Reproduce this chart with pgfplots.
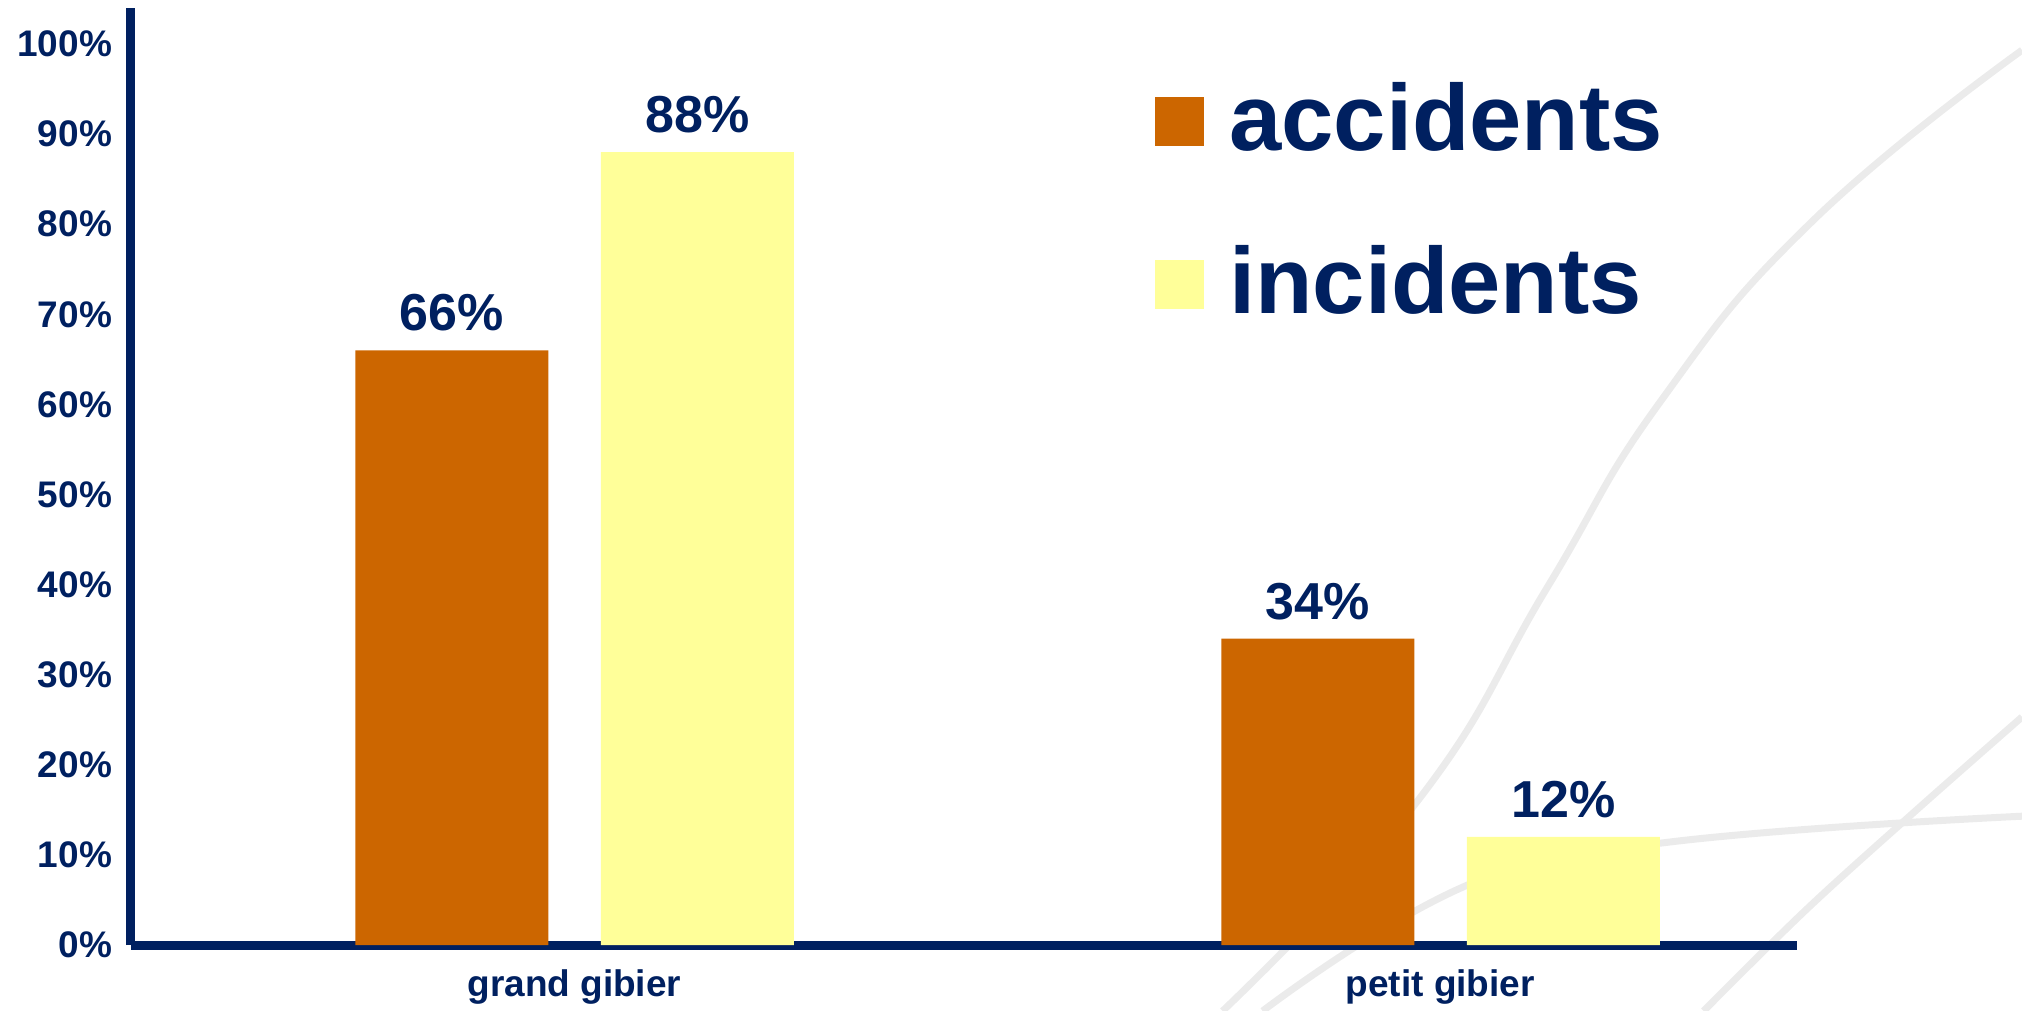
\documentclass[border=0pt]{standalone}
\usepackage{pgfplots}
\pgfplotsset{compat=1.18}
\usepackage{fontspec}
\setmainfont{Liberation Sans}
\definecolor{navy}{HTML}{002060}
\definecolor{accOrange}{HTML}{CC6600}
\definecolor{incYellow}{HTML}{FFFF99}
\definecolor{decoGray}{HTML}{EBEBEB}
\begin{document}
\begin{tikzpicture}
\path[use as bounding box] (0,0) rectangle (1011pt,505.5pt);
% decorative background curves of the slide
\begin{scope}[decoGray, line width=3.5pt]
\draw plot[smooth, tension=0.8] coordinates {(1011pt,480.4pt) (906.6pt,395.3pt) (829.9pt,304.3pt) (773.8pt,212.1pt) (709.3pt,105.7pt) (611.3pt,0pt)};
\draw plot[smooth, tension=0.8] coordinates {(631.3pt,0pt) (735.7pt,63.8pt) (835pt,84.5pt) (1011pt,97.4pt)};
\draw plot[smooth, tension=0.6] coordinates {(1011pt,147pt) (956.2pt,98.7pt) (902.7pt,50.3pt) (851.8pt,0pt)};
\end{scope}
\begin{axis}[
  at={(65.5pt,33pt)}, anchor=south west,
  scale only axis, width=833pt, height=468.5pt,
  xmin=-0.512, xmax=1.412, ymin=0, ymax=104,
  axis x line=bottom, axis y line=left,
  axis line style={-, line width=4.5pt, draw=navy},
  xtick={0,1}, xticklabels={grand gibier, petit gibier},
  ytick={0,10,...,100},
  yticklabel={\pgfmathprintnumber{\tick}\%},
  major tick length=0pt,
  tick style={draw=none},
  /pgf/number format/assume math mode=true,
  ticklabel style={font=\fontsize{18.5}{18.5}\selectfont\bfseries, text=navy},
  yticklabel style={xshift=-6pt},
  xticklabel style={yshift=-9pt},
  ybar, bar width=96.5pt,
  nodes near coords={\pgfmathprintnumber{\pgfplotspointmeta}\%},
  nodes near coords style={font=\fontsize{26}{26}\selectfont\bfseries, text=navy, /pgf/number format/assume math mode=true, yshift=6pt},
  legend style={at={(0.611,0.93)}, anchor=north west, draw=none, fill=none,
    font=\fontsize{47}{47}\selectfont\bfseries, text=navy, row sep=42pt,
    cells={anchor=west}},
]
\addplot[fill=accOrange, draw=none, bar shift=-61.25pt,
  legend image code/.code={\fill[accOrange] (0pt,-14pt) rectangle (24.5pt,10.5pt); \path (35pt,0pt);}]
  coordinates {(0,66) (1,34)};
\addplot[fill=incYellow, draw=none, bar shift=61.5pt,
  legend image code/.code={\fill[incYellow] (0pt,-14pt) rectangle (24.5pt,10.5pt); \path (35pt,0pt);}]
  coordinates {(0,88) (1,12)};
\legend{accidents, incidents}
\end{axis}
\end{tikzpicture}
\end{document}
